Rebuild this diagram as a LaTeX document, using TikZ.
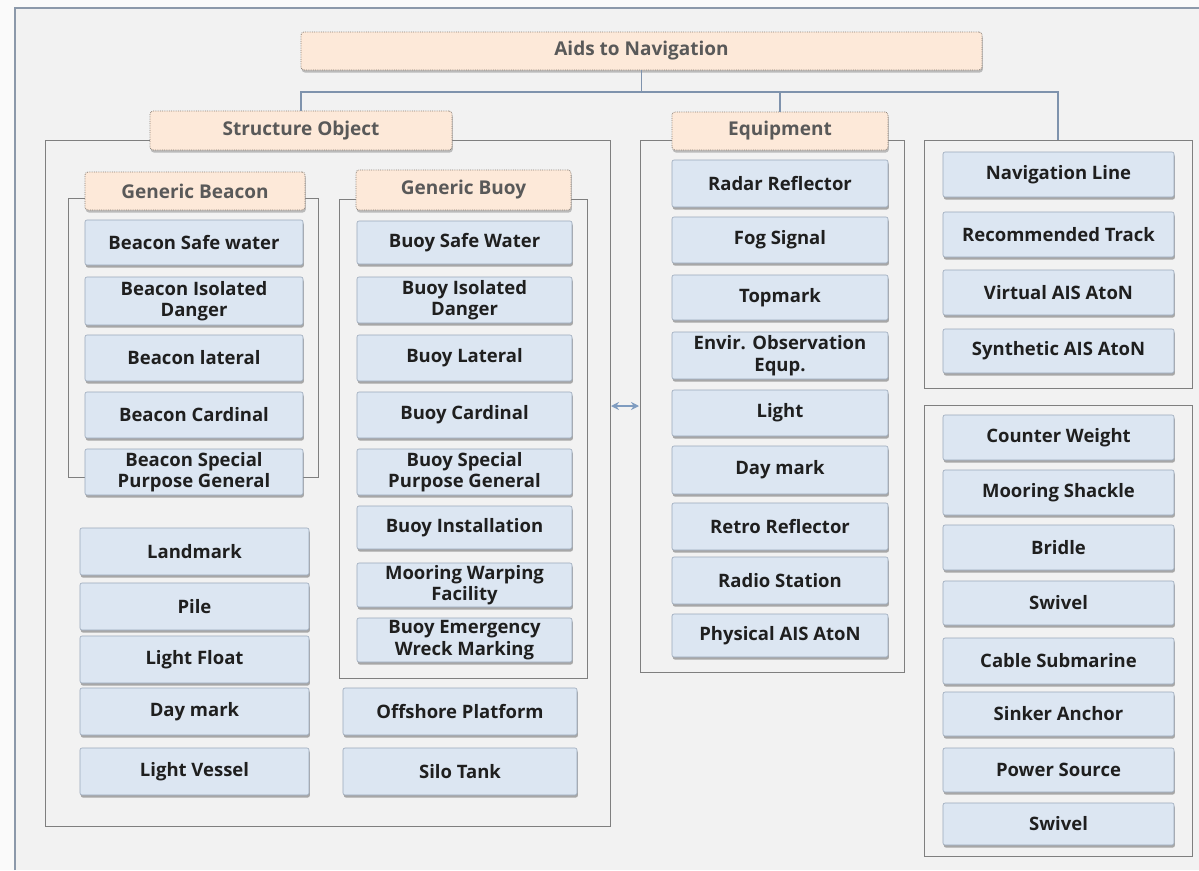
\documentclass[tikz,border=0pt]{standalone}
\usepackage{fontspec}
\setmainfont{Open Sans}
\usetikzlibrary{shadows,arrows.meta}
\definecolor{bg}{HTML}{F2F2F2}
\definecolor{outerbg}{HTML}{FAFAFA}
\definecolor{borderc}{HTML}{8C99AA}
\definecolor{framec}{HTML}{7F7F7F}
\definecolor{connc}{HTML}{7F93AD}
\definecolor{boxblue}{HTML}{DCE6F2}
\definecolor{boxedge}{HTML}{9AA8BA}
\definecolor{peach}{HTML}{FDE9D9}
\definecolor{peachedge}{HTML}{8A7E74}
\definecolor{arrowc}{HTML}{7F9CC0}
\newcommand{\mkbox}[7]{\node[#1, minimum width={#5-#3}, minimum height={#6-#4}] (#2) at ({(#3+#5)/2},{(#4+#6)/2}) {#7};}
\tikzset{
  framebox/.style={draw=framec, line width=1pt, inner sep=0pt},
  bluebox/.style={rounded corners=2pt, fill=boxblue, draw=boxedge, line width=0.6pt,
    drop shadow={shadow xshift=0.8pt, shadow yshift=-2.5pt, opacity=0.45, fill=black!70},
    text=black!88, font=\bfseries\fontsize{18.5}{21.5}\selectfont, align=center, inner sep=1pt},
  peachbox/.style={rounded corners=3pt, fill=peach, draw=peachedge, densely dotted, line width=0.8pt,
    drop shadow={shadow xshift=0.8pt, shadow yshift=-2.5pt, opacity=0.4, fill=black!60},
    text=black!65, font=\bfseries\fontsize{19}{21}\selectfont, align=center, inner sep=1pt},
  conn/.style={draw=connc, line width=1.1pt},
}
\begin{document}
\begin{tikzpicture}[x=1pt,y=-1pt]
\useasboundingbox (0,0) rectangle (1199,870);
\fill[outerbg] (0,0) rectangle (1199,870);
\fill[bg] (15,8) rectangle (1199,870);
\draw[borderc, line width=1.2pt] (15,870) -- (15,8) -- (1199,8);

% frames
\mkbox{framebox}{fso}{45}{140}{610}{826}{}
\mkbox{framebox}{feq}{640}{140}{904}{672}{}
\mkbox{framebox}{fbe}{68}{198}{318}{477}{}
\mkbox{framebox}{fbu}{339}{199}{587}{678}{}
\mkbox{framebox}{rp1}{924}{140}{1192}{388}{}
\mkbox{framebox}{rp2}{924}{405}{1192}{856}{}

% header nodes
\mkbox{peachbox}{title}{301}{32}{982}{70}{Aids to Navigation}
\mkbox{peachbox}{so}{150}{111}{452}{150}{Structure Object}
\mkbox{peachbox}{eq}{672}{112}{888}{150}{Equipment}
\mkbox{peachbox}{gbe}{85}{172}{305}{210}{Generic Beacon}
\mkbox{peachbox}{gbu}{356}{170}{571}{210}{Generic Buoy}

% tree connectors
\coordinate (bus) at (0,92);
\draw[conn] (title.south) -- (title.south |- bus);
\draw[conn] (so.north) -- (so.north |- bus) -- (rp1.north |- bus) -- (rp1.north);
\draw[conn] (eq.north) -- (eq.north |- bus);

% beacon column
\mkbox{bluebox}{be1}{85}{220}{303}{265}{Beacon Safe water}
\mkbox{bluebox}{be2}{85}{277}{303}{325}{Beacon Isolated\\Danger}
\mkbox{bluebox}{be3}{85}{335}{303}{381}{Beacon lateral}
\mkbox{bluebox}{be4}{85}{392}{303}{438}{Beacon Cardinal}
\mkbox{bluebox}{be5}{85}{449}{303}{495}{Beacon Special\\Purpose General}

% buoy column
\mkbox{bluebox}{bu1}{357}{221}{572}{264}{Buoy Safe Water}
\mkbox{bluebox}{bu2}{357}{277}{572}{323}{Buoy Isolated\\Danger}
\mkbox{bluebox}{bu3}{357}{335}{572}{381}{Buoy Lateral}
\mkbox{bluebox}{bu4}{357}{392}{572}{438}{Buoy Cardinal}
\mkbox{bluebox}{bu5}{357}{449}{572}{495}{Buoy Special\\Purpose General}
\mkbox{bluebox}{bu6}{357}{506}{572}{549}{Buoy Installation}
\mkbox{bluebox}{bu7}{357}{563}{572}{607}{Mooring Warping\\Facility}
\mkbox{bluebox}{bu8}{357}{618}{572}{662}{Buoy Emergency\\Wreck Marking}

% lower left
\mkbox{bluebox}{l1}{80}{528}{309}{575}{Landmark}
\mkbox{bluebox}{l2}{80}{583}{309}{630}{Pile}
\mkbox{bluebox}{l3}{80}{636}{309}{683}{Light Float}
\mkbox{bluebox}{l4}{80}{688}{309}{735}{Day mark}
\mkbox{bluebox}{l5}{80}{748}{309}{795}{Light Vessel}
\mkbox{bluebox}{o1}{343}{688}{577}{735}{Offshore Platform}
\mkbox{bluebox}{o2}{343}{748}{577}{795}{Silo Tank}

% equipment
\mkbox{bluebox}{e1}{672}{160}{888}{207}{Radar Reflector}
\mkbox{bluebox}{e2}{672}{217}{888}{263}{Fog Signal}
\mkbox{bluebox}{e3}{672}{275}{888}{320}{Topmark}
\mkbox{bluebox}{e4}{672}{332}{888}{379}{Envir. Observation\\Equp.}
\mkbox{bluebox}{e5}{672}{390}{888}{436}{Light}
\mkbox{bluebox}{e6}{672}{446}{888}{494}{Day mark}
\mkbox{bluebox}{e7}{672}{503}{888}{550}{Retro Reflector}
\mkbox{bluebox}{e8}{672}{557}{888}{604}{Radio Station}
\mkbox{bluebox}{e9}{672}{614}{888}{657}{Physical AIS AtoN}

% right upper
\mkbox{bluebox}{r1}{943}{152}{1174}{197}{Navigation Line}
\mkbox{bluebox}{r2}{943}{212}{1174}{257}{Recommended Track}
\mkbox{bluebox}{r3}{943}{270}{1174}{315}{Virtual AIS AtoN}
\mkbox{bluebox}{r4}{943}{329}{1174}{373}{Synthetic AIS AtoN}

% right lower
\mkbox{bluebox}{s1}{943}{415}{1174}{460}{Counter Weight}
\mkbox{bluebox}{s2}{943}{470}{1174}{515}{Mooring Shackle}
\mkbox{bluebox}{s3}{943}{525}{1174}{570}{Bridle}
\mkbox{bluebox}{s4}{943}{581}{1174}{625}{Swivel}
\mkbox{bluebox}{s5}{943}{638}{1174}{684}{Cable Submarine}
\mkbox{bluebox}{s6}{943}{692}{1174}{736}{Sinker Anchor}
\mkbox{bluebox}{s7}{943}{748}{1174}{792}{Power Source}
\mkbox{bluebox}{s8}{943}{803}{1174}{845}{Swivel}

% double arrow between frames
\coordinate (aL) at (611,406);
\coordinate (aR) at (639,406);
\draw[arrowc, line width=1.8pt, {Stealth[length=8pt,width=8pt]}-{Stealth[length=8pt,width=8pt]}] (aL) -- (aR);
\end{tikzpicture}
\end{document}
